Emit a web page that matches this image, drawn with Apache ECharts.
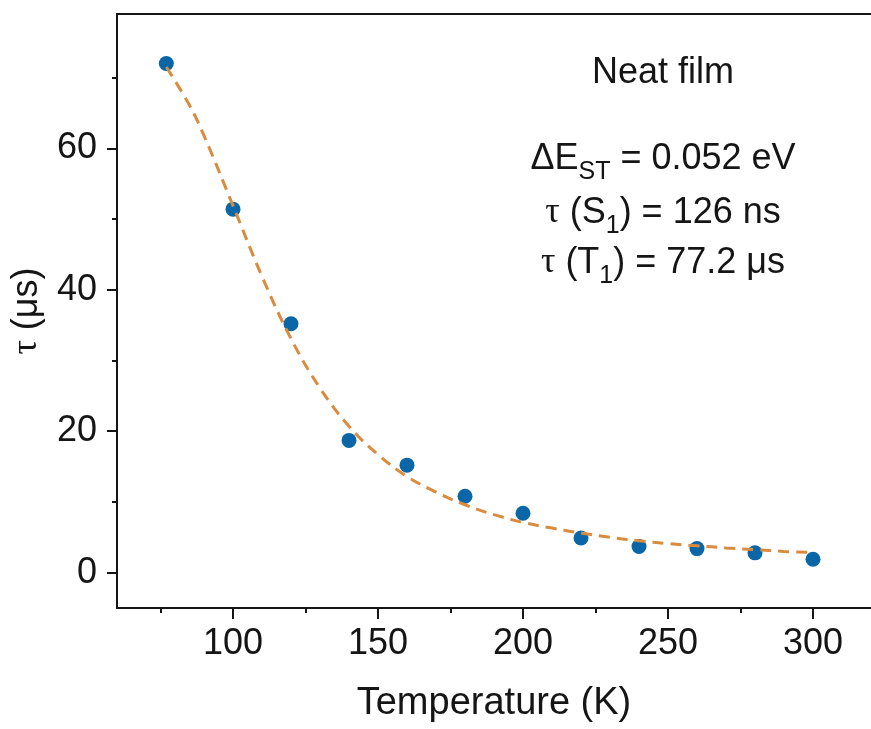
<!DOCTYPE html>
<html>
<head>
<meta charset="utf-8">
<script src="https://cdn.jsdelivr.net/npm/echarts@6/dist/echarts.min.js"></script>
<style>
html,body{margin:0;padding:0;background:#fff;}
#chart{width:871px;height:729px;}
</style>
</head>
<body>
<div id="chart"></div>
<script>
// Measured data points
var tempK = [77, 100, 120, 140, 160, 180, 200, 220, 240, 260, 280, 300];
var tauUs = [72.0, 51.4, 35.2, 18.7, 15.2, 10.8, 8.4, 4.9, 3.7, 3.4, 2.8, 1.9];

// Fit curve
var fitT   = [77, 85, 90, 100, 110, 120, 130, 140, 150, 160, 170, 180, 190, 200, 210, 220, 230, 240, 250, 260, 270, 280, 290, 300];
var fitTau = [71.5, 66.1, 61.8, 51.9, 41.9, 33.1, 26.1, 20.7, 16.7, 13.6, 11.4, 9.6, 8.2, 7.1, 6.3, 5.6, 5.0, 4.5, 4.1, 3.8, 3.5, 3.25, 3.0, 2.85];

var xMajor = [100, 150, 200, 250, 300];
var xMinor = [75, 125, 175, 225, 275];
var yMajor = [0, 20, 40, 60];
var yMinor = [10, 30, 50, 70];

var annoLines = [
  '{n|Neat film}',
  '{n|ΔE}{s|ST}{n| = 0.052 eV}',
  '{t|τ}{n| (S}{s|1}{n|) = 126 ns}',
  '{t|τ}{n| (T}{s|1}{n|) = 77.2 μs}'
];

var FONT = '"Liberation Sans", Arial, sans-serif';
var INK = '#151515';

var chart = echarts.init(document.getElementById('chart'));

var gridPos = {left: 117, top: 14, right: 0, bottom: 121};
var richStyles = {
  n: {fontSize: 36, fontFamily: FONT, color: INK, lineHeight: 52},
  t: {fontSize: 36, fontFamily: '"Liberation Serif", serif', color: INK, lineHeight: 52},
  s: {fontSize: 25, fontFamily: FONT, color: INK, lineHeight: 14, verticalAlign: 'bottom'}
};
var annoY = [73, 159, 213, 263];

var graphics = annoLines.map(function (txt, i) {
  return {
    type: 'text',
    x: 663, y: annoY[i],
    style: {
      text: txt, rich: richStyles,
      textAlign: 'center', textVerticalAlign: 'middle',
      fontSize: 36, fontFamily: FONT, fill: INK
    }
  };
});

chart.setOption({
  animation: false,
  backgroundColor: '#fff',
  grid: [
    Object.assign({show: false}, gridPos),
    Object.assign({show: false}, gridPos)
  ],
  xAxis: [
    {
      type: 'value', gridIndex: 0, min: 60, max: 320, position: 'bottom',
      axisLine: {show: true, onZero: false, lineStyle: {color: INK, width: 2}},
      axisTick: {show: true, inside: false, length: 11, customValues: xMajor, lineStyle: {color: INK, width: 2}},
      axisLabel: {customValues: xMajor, fontSize: 36, fontFamily: FONT, color: INK, margin: 18},
      splitLine: {show: false},
      name: 'Temperature (K)', nameLocation: 'middle', nameGap: 77,
      nameTextStyle: {fontSize: 38, fontFamily: FONT, color: INK}
    },
    {
      type: 'value', gridIndex: 1, min: 60, max: 320, position: 'bottom',
      axisLine: {show: false, onZero: false},
      axisTick: {show: true, inside: false, length: 5, customValues: xMinor, lineStyle: {color: INK, width: 2}},
      axisLabel: {show: false},
      splitLine: {show: false}
    },
    {
      type: 'value', gridIndex: 1, min: 60, max: 320, position: 'top',
      axisLine: {show: true, onZero: false, lineStyle: {color: INK, width: 2}},
      axisTick: {show: false},
      axisLabel: {show: false},
      splitLine: {show: false}
    }
  ],
  yAxis: [
    {
      type: 'value', gridIndex: 0, min: -5, max: 79, position: 'left',
      axisLine: {show: true, onZero: false, lineStyle: {color: INK, width: 2}},
      axisTick: {show: true, inside: false, length: 10, customValues: yMajor, lineStyle: {color: INK, width: 2}},
      axisLabel: {customValues: yMajor, fontSize: 36, fontFamily: FONT, color: INK, margin: 20},
      splitLine: {show: false},
      name: '{t|τ} (μs)', nameLocation: 'middle', nameGap: 72, nameRotate: 90,
      nameTextStyle: {fontSize: 36, fontFamily: FONT, color: INK,
        rich: {t: {fontSize: 36, fontFamily: '"Liberation Serif", serif', color: INK}}}
    },
    {
      type: 'value', gridIndex: 1, min: -5, max: 79, position: 'left',
      axisLine: {show: false, onZero: false},
      axisTick: {show: true, inside: false, length: 5, customValues: yMinor, lineStyle: {color: INK, width: 2}},
      axisLabel: {show: false},
      splitLine: {show: false}
    }
  ],
  series: [
    {
      type: 'scatter', xAxisIndex: 0, yAxisIndex: 0,
      data: tempK.map(function (t, i) { return [t, tauUs[i]]; }),
      symbol: 'circle', symbolSize: 15,
      itemStyle: {color: '#0A66A6', opacity: 1},
      z: 2
    },
    {
      type: 'line', xAxisIndex: 0, yAxisIndex: 0,
      data: fitT.map(function (t, i) { return [t, fitTau[i]]; }),
      smooth: 0.4, showSymbol: false, symbol: 'none',
      lineStyle: {color: '#D98B3E', width: 3, type: [11, 7]},
      z: 3
    }
  ],
  graphic: graphics
});
</script>
</body>
</html>
